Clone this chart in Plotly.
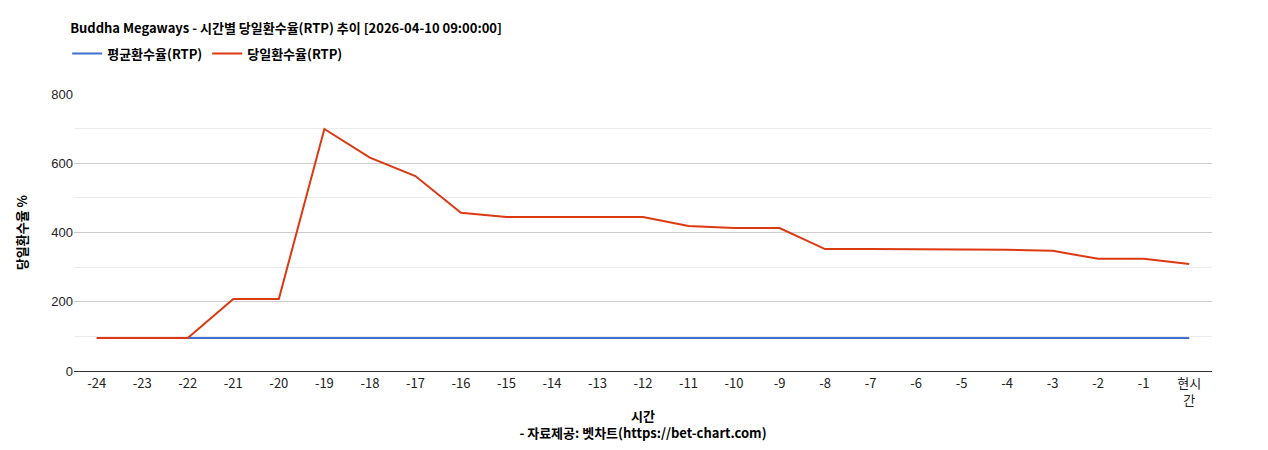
import plotly.graph_objects as go

categories = ["-24","-23","-22","-21","-20","-19","-18","-17","-16","-15","-14","-13","-12",
              "-11","-10","-9","-8","-7","-6","-5","-4","-3","-2","-1","현시<br>간"]
avg_rtp = [95]*25
day_rtp = [95,95,95,208,208,699,616,563,457,445,445,445,445,419,413,413,352,352,352,352,350,347,324,324,309]

font = "Liberation Sans, Arial"
kfont = "Noto Sans CJK KR, Liberation Sans"
fig = go.Figure()
fig.add_trace(go.Scatter(x=categories, y=avg_rtp, mode="lines", name="<b>평균환수율(RTP)</b>",
                         line=dict(color="#3f6fd1", width=2)))
fig.add_trace(go.Scatter(x=categories, y=day_rtp, mode="lines", name="<b>당일환수율(RTP)</b>",
                         line=dict(color="#dc3912", width=2)))
fig.update_layout(
    width=1268, height=450, paper_bgcolor="white", plot_bgcolor="white",
    margin=dict(l=66, r=64, t=86, b=87, autoexpand=False),
    font=dict(family=font, size=13, color="#222"),
    title=dict(text="<b>Buddha Megaways - 시간별 당일환수율(RTP) 추이 [2026-04-10 09:00:00]</b>",
               x=0.049, xanchor="left", y=0.965, yanchor="top",
               font=dict(family=kfont, size=13, color="#000")),
    legend=dict(orientation="h", x=-0.006, xanchor="left", y=1.2, yanchor="top",
                font=dict(family=kfont, size=13, color="#000")),
    showlegend=True,
    xaxis=dict(type="category", range=[-0.5, 24.5], showgrid=False, showline=True, linecolor="#333",
               ticks="outside", ticklen=0, tickfont=dict(family=kfont, size=13, color="#222"),
               automargin=False,
               title=dict(text="<b>시간</b><br><b>- 자료제공: 벳차트(https://bet-chart.com)</b>",
                          font=dict(family=kfont, size=13, color="#000"), standoff=4)),
    yaxis=dict(range=[0, 800], dtick=200, gridcolor="#cccccc", zeroline=False,
               tickfont=dict(size=13, color="#222"), automargin=False,
               minor=dict(dtick=100, showgrid=True, gridcolor="#ececec"),
               title=dict(text="<b>당일환수율 %</b>", font=dict(family=kfont, size=13, color="#000"), standoff=20)),
)
fig.write_html("out.html")
